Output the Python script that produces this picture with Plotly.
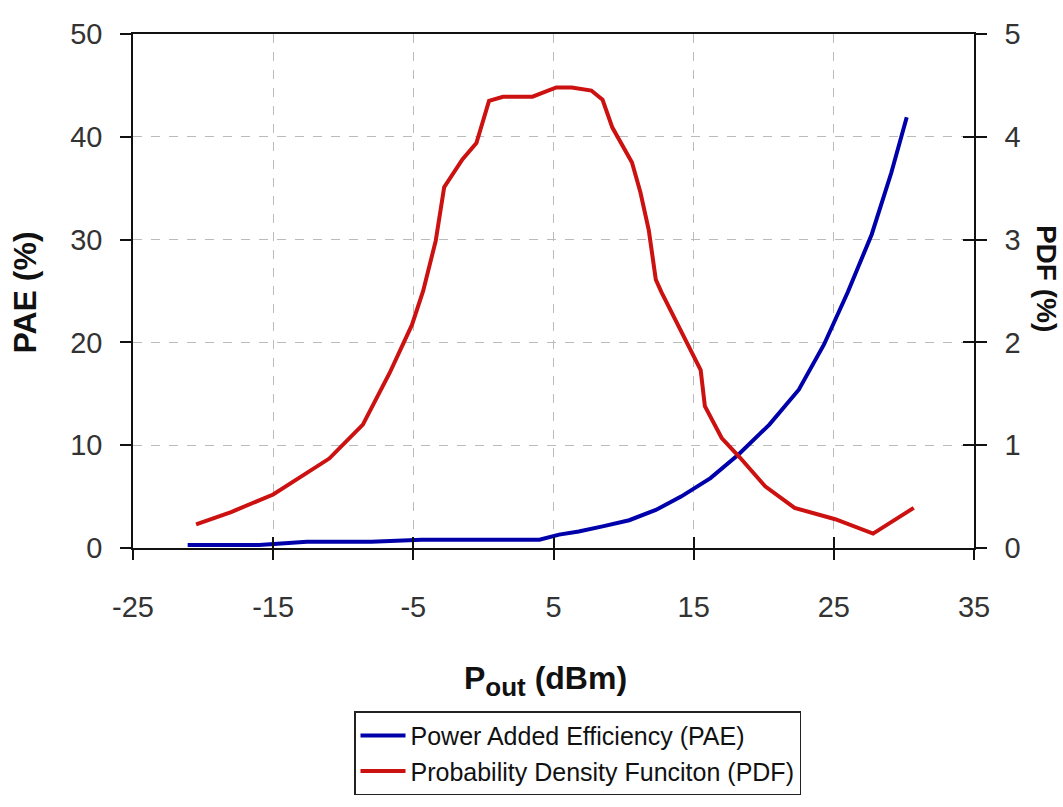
import plotly.graph_objects as go

# Power Added Efficiency (left axis, %)
pae_x = [-21.1, -16, -12.6, -8, -4.4, 0, 4.0, 5.4, 6.8, 8.5, 10.4, 12.3, 14.1, 16.2, 18.2, 20.4, 22.5, 24.3, 26.0, 27.7, 29.1, 30.2]
pae_y = [0.3, 0.3, 0.6, 0.6, 0.8, 0.8, 0.8, 1.3, 1.6, 2.1, 2.7, 3.7, 5.0, 6.8, 9.1, 12.0, 15.4, 19.8, 24.9, 30.5, 36.5, 41.9]

# Probability Density Function (right axis, %)
pdf_x = [-20.5, -18.0, -15.0, -11.0, -8.6, -6.7, -5.1, -4.3, -3.4, -2.8, -1.5, -0.5, 0.4, 1.4, 3.5, 5.2, 6.3, 7.7, 8.5, 9.2,
         10.6, 11.2, 11.8, 12.3, 12.7, 14.9, 15.5, 15.8, 17.0, 18.3, 20.1, 22.2, 25.1, 27.8, 30.7]
pdf_y = [0.23, 0.35, 0.52, 0.87, 1.20, 1.70, 2.17, 2.50, 2.99, 3.51, 3.78, 3.94, 4.35, 4.39, 4.39, 4.48, 4.48, 4.45, 4.36, 4.09,
         3.75, 3.46, 3.09, 2.61, 2.49, 1.89, 1.73, 1.38, 1.07, 0.88, 0.60, 0.39, 0.28, 0.14, 0.39]

x_ticks = [-25, -15, -5, 5, 15, 25, 35]
x_tick_text = ["-25", "-15", "-5", "5", "15", "25", "35"]
y1_ticks = [0, 10, 20, 30, 40, 50]
y2_ticks = [0, 1, 2, 3, 4, 5]

FONT = "Liberation Sans, Arial, sans-serif"
TICKCOL = "#333333"
TICKSIZE = 29

fig = go.Figure()
fig.add_trace(go.Scatter(x=pae_x, y=pae_y, mode="lines", name="Power Added Efficiency (PAE)",
                         line=dict(color="#0000AA", width=4), yaxis="y"))
fig.add_trace(go.Scatter(x=pdf_x, y=pdf_y, mode="lines", name="Probability Density Funciton (PDF)",
                         line=dict(color="#CC1111", width=4), yaxis="y2"))
# empty helper trace so the inside-tick overlay axes get drawn (gives "cross" ticks)
fig.add_trace(go.Scatter(x=[None], y=[None], mode="lines", xaxis="x2", yaxis="y3",
                         showlegend=False, hoverinfo="skip"))

L, R, T, B = 133, 1063 - 974, 34, 807 - 563
W = 1063 - L - R
H = 807 - T - B

def px_x(p):
    return (p - L) / W

def px_y(p):
    return (807 - B - p) / H

tickfont = dict(family=FONT, size=TICKSIZE, color=TICKCOL)

fig.update_layout(
    width=1063, height=807,
    margin=dict(l=L, r=R, t=T, b=B, pad=0),
    paper_bgcolor="white", plot_bgcolor="white",
    font=dict(family=FONT, size=22, color=TICKCOL),
    showlegend=True,
    legend=dict(x=px_x(354), y=px_y(731), xanchor="left", yanchor="top",
                bordercolor="#222222", borderwidth=1.5, bgcolor="white",
                font=dict(family=FONT, size=25, color="#111111"),
                itemwidth=45, tracegroupgap=0),
    xaxis=dict(range=[-25, 35], tickvals=x_ticks, ticktext=x_tick_text, ticks="outside", ticklen=10,
               tickwidth=1.5, tickcolor="#111", showline=True, linecolor="#111", linewidth=1.5, mirror=True,
               showgrid=True, gridcolor="#BBBBBB", griddash="dash", gridwidth=1,
               zeroline=False, ticklabelstandoff=22, tickfont=tickfont),
    xaxis2=dict(range=[-25, 35], tickvals=x_ticks, overlaying="x", anchor="y3", side="bottom",
                ticks="inside", ticklen=11, tickwidth=1.5, tickcolor="#111", showticklabels=False,
                showline=False, showgrid=False, zeroline=False),
    yaxis=dict(range=[0, 50], tickvals=y1_ticks, ticks="outside", ticklen=11, tickwidth=1.5,
               tickcolor="#111", showline=True, linecolor="#111", linewidth=1.5,
               showgrid=True, gridcolor="#BBBBBB", griddash="dash", gridwidth=1,
               zeroline=False, ticklabelstandoff=12, tickfont=tickfont),
    yaxis2=dict(range=[0, 5], tickvals=y2_ticks, overlaying="y", side="right", anchor="x", ticks="outside",
                ticklen=11, tickwidth=1.5, tickcolor="#111", showline=True, linecolor="#111",
                linewidth=1.5, showgrid=False, zeroline=False, ticklabelstandoff=12, tickfont=tickfont),
    yaxis3=dict(range=[0, 5], tickvals=y2_ticks, overlaying="y", side="right", anchor="x2", ticks="inside",
                ticklen=11, tickwidth=1.5, tickcolor="#111", showticklabels=False,
                showline=False, showgrid=False, zeroline=False),
    annotations=[
        dict(text="<b>PAE (%)</b>", xref="paper", yref="paper", x=px_x(25), y=px_y(300),
             textangle=-90, showarrow=False, font=dict(family=FONT, size=32, color="#111111"),
             xanchor="center", yanchor="middle"),
        dict(text="<b>PDF (%)</b>", xref="paper", yref="paper", x=px_x(1046), y=px_y(285),
             textangle=90, showarrow=False, font=dict(family=FONT, size=28, color="#111111"),
             xanchor="center", yanchor="middle"),
        dict(text="<b>P<sub><span style='font-size:26px'>out</span></sub> (dBm)</b>", xref="paper", yref="paper",
             x=px_x(545), y=px_y(700),
             showarrow=False, font=dict(family=FONT, size=32, color="#111111"),
             xanchor="center", yanchor="middle"),
    ],
)

fig.write_html("out.html")
